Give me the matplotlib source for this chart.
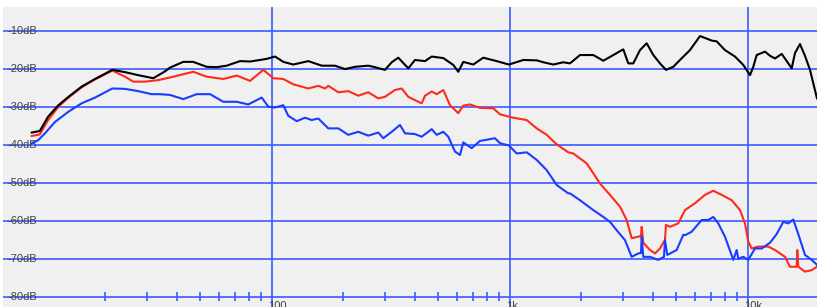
import matplotlib
matplotlib.use('Agg')
import matplotlib.pyplot as plt

# 周波数特性 (dB) 読み取り値
black_f = [9.81, 10.6, 11.5, 12.7, 14.0, 15.9, 18.1, 21.4, 24.2, 27.5, 31.8, 35.6, 37.4, 42.5, 46.8,
           53.3, 58.7, 64.7, 73.6, 81.1, 89.3, 95.3, 103.3, 111.9, 123.2, 142.5, 162.3, 184.5, 203.2,
           223.9, 254.6, 271.6, 299.2, 319.4, 340.4, 374.9, 400.1, 440.7, 470.2, 526.0, 579.4, 608.1,
           638.3, 703.1, 774.5, 881.9, 993, 1141, 1299, 1384, 1525, 1680, 1792, 1974, 2245, 2474,
           2725, 3001, 3150, 3306, 3528, 3764, 4013, 4281, 4537, 4868, 5194, 5722, 6304, 6616, 7059,
           7408, 8027, 8844, 9583, 10226, 10557, 10910, 11822, 12411, 13027, 13900, 15307, 15803,
           16585, 17410, 18272, 19555]
black_db = [-36.8, -36.4, -32.6, -29.6, -27.4, -24.7, -22.7, -20.3, -20.9, -21.7, -22.5, -20.7, -19.7,
            -18.2, -18.2, -19.5, -19.6, -19.2, -18.0, -18.1, -17.7, -17.4, -16.8, -18.2, -18.9, -18.0,
            -19.2, -19.2, -20.1, -19.5, -19.2, -19.6, -20.3, -18.3, -17.1, -19.9, -17.7, -18.0, -16.8,
            -17.2, -19.0, -20.8, -18.2, -18.9, -17.1, -18.0, -18.9, -17.7, -17.8, -18.3, -18.9, -18.3,
            -18.6, -16.4, -16.4, -17.9, -16.4, -14.9, -18.6, -18.6, -15.1, -13.3, -16.4, -18.6, -20.3,
            -19.5, -17.7, -15.1, -11.4, -11.9, -12.6, -12.8, -15.1, -16.8, -19.0, -21.7, -19.5, -16.4,
            -15.5, -16.6, -17.3, -16.1, -19.9, -15.9, -13.5, -16.6, -20.3, -27.8]

red_f = [9.81, 10.6, 11.5, 12.7, 14.0, 15.9, 18.1, 21.4, 24.2, 26.2, 29.35, 33.4, 38.6, 46.8, 53.3,
         62.6, 71.3, 81.1, 92.2, 101.6, 111.9, 123.2, 142.5, 157.0, 167.5, 172.9, 190.5, 209.8, 231.1,
         254.6, 280.5, 299.2, 329.7, 351.8, 374.9, 413.0, 426.8, 440.7, 470.2, 493.5, 526.0, 561.3,
         608.1, 638.3, 681.1, 750.3, 853.4, 910.5, 1035, 1179, 1299, 1431, 1576, 1763, 1850, 2106,
         2245, 2395, 2638, 2907, 3101, 3255, 3470, 3562, 3586, 3642, 3886, 4079, 4281, 4493, 4537,
         4716, 5109, 5452, 6005, 6616, 7170, 7777, 8568, 9284, 9743, 10058, 10394, 11079, 12206,
         13027, 14344, 15056, 16065, 16158, 16315, 17410, 18573, 19555]
red_db = [-37.7, -37.3, -33.5, -30.0, -27.6, -24.9, -22.8, -20.5, -22.1, -23.4, -23.4, -23.0, -22.1,
          -20.8, -22.1, -22.7, -21.8, -23.2, -20.3, -22.5, -22.7, -24.1, -25.2, -24.5, -25.2, -24.5,
          -26.2, -25.9, -27.1, -26.2, -27.8, -27.4, -25.6, -25.2, -27.4, -28.7, -29.1, -27.1, -26.0,
          -26.7, -25.6, -29.6, -31.7, -29.7, -29.4, -30.3, -30.4, -32.0, -32.9, -33.5, -35.7, -37.4,
          -39.9, -42.0, -42.3, -44.9, -47.5, -50.2, -53.2, -56.3, -59.8, -64.6, -64.2, -64.0, -61.6,
          -65.8, -67.7, -68.6, -67.3, -65.0, -61.1, -61.6, -60.7, -57.2, -55.4, -53.2, -52.1, -53.2,
          -54.6, -57.2, -60.7, -65.5, -67.3, -66.8, -66.8, -67.7, -69.5, -72.1, -72.1, -67.7, -72.1,
          -73.4, -73.0, -72.1]

blue_f = [9.81, 10.45, 11.15, 12.29, 14.0, 15.9, 18.1, 21.4, 24.2, 27.5, 31.3, 33.9, 37.4, 42.5, 48.4,
          55.1, 62.6, 71.3, 79.7, 90.8, 96.8, 103.3, 111.9, 117.4, 127.4, 138.0, 147.3, 157.0, 172.9,
          190.5, 209.8, 231.1, 254.6, 280.5, 294.4, 319.4, 346.0, 363.2, 400.1, 426.8, 470.2, 493.5,
          526.0, 552.1, 589.1, 618.3, 638.3, 692.4, 750.3, 867.5, 910.5, 993, 1070, 1179, 1299, 1431,
          1576, 1763, 1792, 1974, 2245, 2474, 2638, 2816, 3051, 3255, 3470, 3562, 3586, 3642, 3886,
          4212, 4449, 4493, 4594, 5031, 5362, 5452, 5817, 6408, 6832, 7170, 7525, 8027, 8702, 8993,
          9133, 9583, 10058, 10731, 11450, 12411, 13242, 14111, 14810, 15545, 16315, 17410, 18573,
          19555]
blue_db = [-39.6, -38.8, -37.0, -34.0, -31.3, -29.1, -27.6, -25.2, -25.3, -25.9, -26.7, -26.7, -26.9,
           -28.0, -26.7, -26.7, -28.7, -28.7, -29.4, -27.6, -30.0, -30.2, -29.6, -32.4, -33.8, -32.9,
           -33.5, -33.1, -35.7, -35.7, -37.4, -36.6, -37.6, -36.8, -38.3, -36.6, -34.8, -37.0, -37.2,
           -37.9, -35.9, -37.4, -36.6, -37.9, -41.8, -42.7, -39.4, -40.9, -39.0, -38.3, -39.6, -40.2,
           -42.3, -42.0, -44.0, -46.7, -50.6, -52.8, -52.8, -54.6, -57.2, -59.0, -60.3, -62.5, -65.1,
           -69.5, -68.6, -68.5, -64.2, -69.5, -69.5, -70.3, -69.5, -65.1, -69.0, -67.7, -63.7, -63.8,
           -62.9, -59.8, -59.8, -59.0, -60.7, -64.2, -70.3, -67.7, -70.0, -69.5, -70.3, -67.3, -67.3,
           -65.8, -63.5, -60.3, -60.7, -59.7, -63.5, -69.0, -70.3, -71.6]

db_levels = [-10, -20, -30, -40, -50, -60, -70, -80]
major_f = [100, 1000, 10000]
major_labels = ['100', '1k', '10k']
minor_f = [20, 30, 40, 50, 60, 70, 80, 90, 200, 300, 400, 500, 600, 700, 800, 900,
           2000, 3000, 4000, 5000, 6000, 7000, 8000, 9000]

grid_c = '#3b5cff'

fig = plt.figure(figsize=(8.17, 3.07), dpi=100)
ax = fig.add_axes([3 / 817, 0, 814 / 817, 300 / 307])
ax.set_facecolor('#f0f0f0')
ax.set_xscale('log')
ax.set_xlim(7.43, 19555)
ax.set_ylim(-82.7, -3.76)

for v in db_levels:
    ax.axhline(v, color=grid_c, lw=1.2, zorder=1)
for f in major_f:
    ax.axvline(f, color=grid_c, lw=1.2, zorder=1)
ax.vlines(minor_f, -81.2, -78.8, color=grid_c, lw=1.2, zorder=1)

ax.plot(red_f, red_db, color='#ff2a18', lw=1.5, zorder=3)
ax.plot(blue_f, blue_db, color='#1a3cff', lw=1.5, zorder=4)
ax.plot(black_f, black_db, color='#000000', lw=1.5, zorder=5)

for v in db_levels:
    ax.text(0.006, v, '%ddB' % v, transform=ax.get_yaxis_transform(), va='center', ha='left',
            fontsize=8, family='Liberation Sans', color='#404040', zorder=2)
for f, lab in zip(major_f, major_labels):
    ax.annotate(lab, (f, -81.1), xytext=(-2.5, 0), textcoords='offset points', va='top', ha='left',
                fontsize=8, family='Liberation Sans', color='#404040', annotation_clip=False)

for s in ax.spines.values():
    s.set_visible(False)
ax.set_xticks([])
ax.set_yticks([])
ax.minorticks_off()

fig.savefig('out.png', dpi=100, facecolor='white')
